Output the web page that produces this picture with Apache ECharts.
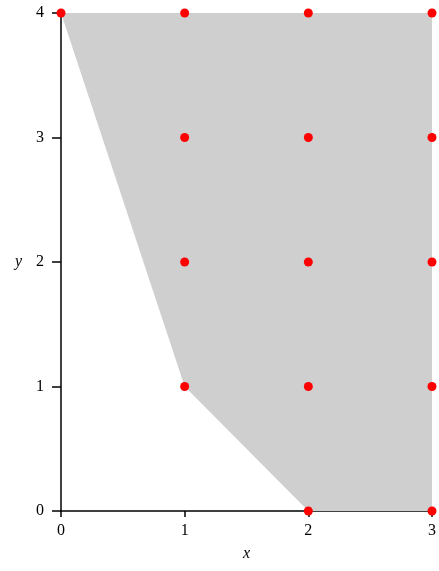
<!DOCTYPE html>
<html><head><meta charset="utf-8">
<script src="https://cdn.jsdelivr.net/npm/echarts@6/dist/echarts.min.js"></script>
<style>html,body{margin:0;padding:0;background:#fff}#c{width:439px;height:571px}</style>
</head><body><div id="c"></div>
<script>
const xTicks = [0, 1, 2, 3];
const yTicks = [0, 1, 2, 3, 4];
const regionX = [0, 1, 2, 3, 3];
const regionY = [4, 1, 0, 0, 4];
const pointX = [0, 1, 2, 3, 1, 2, 3, 1, 2, 3, 1, 2, 3, 2, 3];
const pointY = [4, 4, 4, 4, 3, 3, 3, 2, 2, 2, 1, 1, 1, 0, 0];

const regionPts = regionX.map((x, i) => [x, regionY[i]]);
const pts = pointX.map((x, i) => [x, pointY[i]]);
const font = "'Liberation Serif', 'DejaVu Serif', serif";

const chart = echarts.init(document.getElementById('c'));
chart.setOption({
  animation: false,
  grid: {left: 61, right: 5, top: 13, bottom: 60},
  xAxis: {
    type: 'value', min: 0, max: 3, interval: 1,
    name: 'x', nameLocation: 'middle', nameGap: 35,
    nameTextStyle: {fontFamily: font, fontStyle: 'italic', fontSize: 16, color: '#000'},
    axisLine: {show: true, onZero: false, lineStyle: {color: '#000', width: 1.5}},
    axisTick: {show: true, length: 6, lineStyle: {color: '#000', width: 1.5}},
    axisLabel: {fontFamily: font, fontSize: 16, color: '#000', margin: 12},
    splitLine: {show: false}
  },
  yAxis: {
    type: 'value', min: 0, max: 4, interval: 1,
    name: 'y', nameLocation: 'middle', nameGap: 39, nameRotate: 0,
    nameTextStyle: {fontFamily: font, fontStyle: 'italic', fontSize: 16, color: '#000'},
    axisLine: {show: true, onZero: false, lineStyle: {color: '#000', width: 1.5}},
    axisTick: {show: true, length: 9, lineStyle: {color: '#000', width: 1.5}},
    axisLabel: {fontFamily: font, fontSize: 16, color: '#000', margin: 17},
    splitLine: {show: false}
  },
  series: [
    {
      type: 'custom',
      silent: true,
      z: 1,
      data: [0],
      renderItem: function (params, api) {
        return {
          type: 'polygon',
          shape: {points: regionPts.map(p => api.coord(p))},
          style: {fill: '#cfcfcf', stroke: 'none'}
        };
      }
    },
    {
      type: 'scatter',
      z: 5,
      clip: false,
      symbol: 'circle',
      symbolSize: 9,
      itemStyle: {color: '#ff0000', opacity: 1},
      data: pts
    }
  ]
});
</script></body></html>
